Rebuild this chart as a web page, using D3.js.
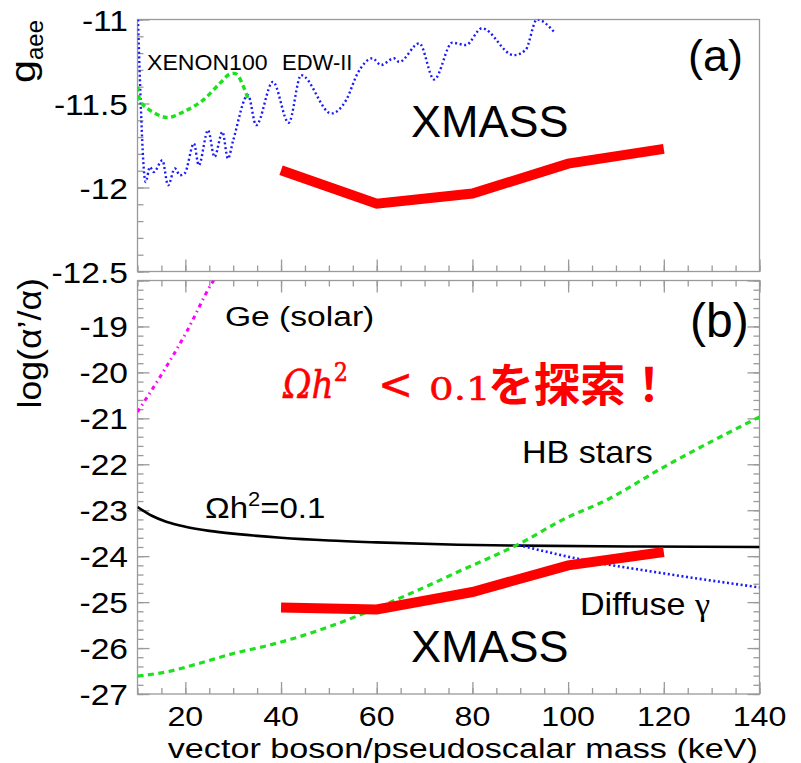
<!DOCTYPE html>
<html>
<head>
<meta charset="utf-8">
<script src="https://cdn.jsdelivr.net/npm/d3@7"></script>
<style>
  html, body { margin: 0; padding: 0; background: #fff; }
  svg { display: block; }
</style>
</head>
<body>
<div id="chart"></div>
<script>
// (a) g_aee limits
const edwMass = [10.1, 11.7, 12.6, 13.4, 15.2, 16.4, 17.8, 18.9, 19.9, 21.8, 22.8, 24.75, 26.1, 27.75, 28.9, 30, 33.1, 34.8, 38.3, 41.6, 44.2, 50.5, 53.6, 56, 59.1, 60.9, 63.6, 64.7, 68.9, 72, 75.8, 78.6, 82, 88.6, 91.1, 93.5, 97.3];
const edwGaee = [-11.0, -11.967, -11.878, -11.908, -11.838, -11.987, -11.887, -11.927, -11.914, -11.738, -11.868, -11.659, -11.818, -11.669, -11.828, -11.719, -11.45, -11.629, -11.371, -11.615, -11.331, -11.559, -11.48, -11.321, -11.231, -11.271, -11.231, -11.252, -11.142, -11.357, -11.138, -11.152, -11.052, -11.212, -11.182, -11.0, -11.082];
const xenonMass = [10, 10.5, 11.6, 16.1, 20.25, 23.7, 27.2, 29.3, 30.7, 32, 33.1];
const xenonGaee = [-11.40, -11.48, -11.52, -11.583, -11.54, -11.48, -11.38, -11.325, -11.325, -11.39, -11.47];
const xmassMass = [40, 60, 80, 100, 120];
const xmassGaee = [-11.897, -12.096, -12.036, -11.858, -11.77];

// (b) log(alpha'/alpha)
const geMass = [10, 14.7, 20.25, 25.25, 26.5];
const geAlpha = [-20.86, -20.1, -19.12, -18.11, -17.9];
const relicMass = [10, 13, 16, 20, 25, 31, 40, 50, 60, 77, 90, 115, 140];
const relicAlpha = [-22.93, -23.12, -23.25, -23.36, -23.45, -23.52, -23.6, -23.66, -23.7, -23.75, -23.77, -23.79, -23.8];
const hbMass = [10, 16, 23, 30, 37, 42, 51, 59, 68, 77, 90, 99, 108, 120, 140];
const hbAlpha = [-26.61, -26.52, -26.33, -26.12, -25.95, -25.81, -25.5, -25.17, -24.77, -24.34, -23.72, -23.2, -22.78, -22.06, -20.97];
const gammaMass = [89.7, 103.6, 120.3, 140];
const gammaAlpha = [-23.76, -24.09, -24.38, -24.68];
const xmassAlpha = [-25.12, -25.16, -24.78, -24.2, -23.91];

const massTicks = [20, 40, 60, 80, 100, 120, 140];
const gaeeTicks = [-12.5, -12, -11.5, -11];
const alphaTicks = [-27, -26, -25, -24, -23, -22, -21, -20, -19];

const FONT = '"Liberation Sans", Arial, sans-serif';
const width = 801, height = 763;
const axisColor = '#9a9a9a';

const svg = d3.select('#chart').append('svg').attr('width', width).attr('height', height);

const x = d3.scaleLinear().domain([10, 140]).range([137.5, 759.5]);
const yTop = d3.scaleLinear().domain([-12.5, -11]).range([271.5, 19.5]);
const yBot = d3.scaleLinear().domain([-27, -18]).range([694, 280.5]);

function zip(xs, ys) { return xs.map((v, i) => [v, ys[i]]); }

function label(parent, px, py, str, opts = {}) {
  return parent.append('text')
    .attr('transform', 'translate(' + px + ',' + py + ') scale(' + (opts.sx || 1) + ',1)')
    .attr('text-anchor', opts.anchor || 'start')
    .style('font-family', opts.family || FONT)
    .style('font-size', (opts.size || 30) + 'px')
    .attr('fill', opts.fill || '#000')
    .text(str);
}

function styleAxis(g) {
  g.select('.domain').remove();
  g.selectAll('line').attr('stroke', axisColor).attr('stroke-width', 1.3);
}

function ticks(axisFn, scale, values, size, translate) {
  const g = svg.append('g').attr('transform', translate)
    .call(axisFn(scale).tickValues(values).tickSize(-size).tickFormat(''));
  styleAxis(g);
  g.selectAll('text').remove();
  return g;
}

const minorMass = d3.range(10, 141, 5);
const minorGaee = d3.range(0, 16).map((i) => -12.5 + i * 0.1);
const minorAlpha = d3.range(0, 46).map((i) => -27 + i * 0.2);

// ---- panel frames
function frame(y0, y1) {
  svg.append('rect')
    .attr('x', x(10)).attr('y', y0)
    .attr('width', x(140) - x(10)).attr('height', y1 - y0)
    .attr('fill', 'none').attr('stroke', axisColor).attr('stroke-width', 1.3);
}
frame(yTop(-11), yTop(-12.5));
frame(yBot(-18), yBot(-27));

// ---- top panel ticks
ticks(d3.axisBottom, x, minorMass, 6, 'translate(0,' + yTop(-12.5) + ')');
ticks(d3.axisBottom, x, massTicks, 12, 'translate(0,' + yTop(-12.5) + ')');
ticks(d3.axisLeft, yTop, minorGaee, 6, 'translate(' + x(10) + ',0)');
ticks(d3.axisLeft, yTop, gaeeTicks, 12, 'translate(' + x(10) + ',0)');

// ---- bottom panel ticks (all four sides)
[['translate(0,' + yBot(-27) + ')', d3.axisBottom], ['translate(0,' + yBot(-18) + ')', d3.axisTop]].forEach(([tr, fn]) => {
  ticks(fn, x, minorMass, 6, tr);
  ticks(fn, x, massTicks, 12, tr);
});
[['translate(' + x(10) + ',0)', d3.axisLeft], ['translate(' + x(140) + ',0)', d3.axisRight]].forEach(([tr, fn]) => {
  ticks(fn, yBot, minorAlpha, 6, tr);
  ticks(fn, yBot, alphaTicks.concat([-18]), 12, tr);
});

// ---- tick labels
gaeeTicks.forEach((v) => label(svg, 128, yTop(v) + 11, String(v), { anchor: 'end', size: 30, sx: 1.12 }));
alphaTicks.forEach((v) => label(svg, 128, yBot(v) + 11, String(v), { anchor: 'end', size: 30, sx: 1.12 }));
massTicks.forEach((v) => label(svg, x(v), 726, String(v), { anchor: 'middle', size: 28, sx: 1.15 }));

// ---- axis titles
label(svg, 758, 757.5, 'vector boson/pseudoscalar mass (keV)', { anchor: 'end', size: 28, sx: 1.22 });

const gTitle = svg.append('g');
gTitle.append('text').attr('transform', 'translate(35,60) rotate(-90) scale(1.15,1)')
  .attr('text-anchor', 'end').style('font-family', FONT).style('font-size', '36px').text('g');
gTitle.append('text').attr('transform', 'translate(43,20) rotate(-90)')
  .attr('text-anchor', 'end').style('font-family', FONT).style('font-size', '24px').text('aee');

svg.append('text').attr('transform', 'translate(41,278) rotate(-90) scale(1.05,1)')
  .attr('text-anchor', 'end').style('font-family', FONT).style('font-size', '34px').text('log(α’/α)');

// ---- clip paths
const defs = svg.append('defs');
defs.append('clipPath').attr('id', 'clip-top').append('rect')
  .attr('x', x(10)).attr('y', yTop(-11)).attr('width', x(140) - x(10)).attr('height', yTop(-12.5) - yTop(-11));
defs.append('clipPath').attr('id', 'clip-bot').append('rect')
  .attr('x', x(10)).attr('y', yBot(-18)).attr('width', x(140) - x(10)).attr('height', yBot(-27) - yBot(-18));

const panelA = svg.append('g').attr('clip-path', 'url(#clip-top)');
const panelB = svg.append('g').attr('clip-path', 'url(#clip-bot)');

function curve(parent, yScale, pts, stroke, widthPx, dash, shape) {
  const line = d3.line().x((d) => x(d[0])).y((d) => yScale(d[1])).curve(shape || d3.curveMonotoneX);
  parent.append('path').datum(pts)
    .attr('d', line)
    .attr('fill', 'none')
    .attr('stroke', stroke)
    .attr('stroke-width', widthPx)
    .attr('stroke-dasharray', dash || null);
}

// (a)
curve(panelA, yTop, zip(edwMass, edwGaee), '#1a1aff', 2.4, '2 2.6');
curve(panelA, yTop, zip(xenonMass, xenonGaee), '#1ee01e', 3.4, '5 3.5', d3.curveCatmullRom);
curve(panelA, yTop, zip(xmassMass, xmassGaee), '#ff0000', 10, null, d3.curveLinear);

// (b)
curve(panelB, yBot, zip(geMass, geAlpha), '#ff00ff', 3, '4 4 1.5 4');
curve(panelB, yBot, zip(relicMass, relicAlpha), '#000', 2.6, null);
curve(panelB, yBot, zip(hbMass, hbAlpha), '#1ee01e', 3.2, '6 4.5');
curve(panelB, yBot, zip(gammaMass, gammaAlpha), '#1a1aff', 2.6, '2 2.6');
curve(panelB, yBot, zip(xmassMass, xmassAlpha), '#ff0000', 10, null, d3.curveLinear);

// ---- annotations (a)
label(svg, 147, 70, 'XENON100', { size: 22, sx: 1.05 });
label(svg, 282, 70, 'EDW-II', { size: 22, sx: 1.0 });
label(svg, 688, 71, '(a)', { size: 45 });
label(svg, 411, 137, 'XMASS', { size: 45 });

// ---- annotations (b)
label(svg, 225, 326, 'Ge (solar)', { size: 28, sx: 1.2 });
label(svg, 690, 337, '(b)', { size: 48 });
label(svg, 522, 463, 'HB stars', { size: 31, sx: 1.1 });
label(svg, 411, 662, 'XMASS', { size: 45 });

const relic = label(svg, 205, 518, null, { size: 30, sx: 1.1 });
relic.append('tspan').text('Ωh');
relic.append('tspan').attr('dy', -12).style('font-size', '20px').text('2');
relic.append('tspan').attr('dy', 12).text('=0.1');

const diffuse = label(svg, 580, 615, null, { size: 31, sx: 1.1 });
diffuse.append('tspan').text('Diffuse ');
diffuse.append('tspan').style('font-family', '"Liberation Serif", serif').text('γ');

// red message
const msg1 = label(svg, 283, 398, null, { size: 40, sx: 0.86, family: '"DejaVu Serif", serif', fill: '#ff0000' })
  .style('font-style', 'italic').attr('stroke', '#ff0000').attr('stroke-width', 0.6);
msg1.append('tspan').text('Ωh');
msg1.append('tspan').attr('dy', -17).style('font-style', 'normal').style('font-size', '26px').text('2');
label(svg, 378, 399, '<', { size: 42, family: '"DejaVu Serif", serif', fill: '#ff0000' })
  .attr('stroke', '#ff0000').attr('stroke-width', 0.5);
label(svg, 429, 400, '0.1', { size: 31, sx: 1.25, family: '"DejaVu Serif", serif', fill: '#ff0000' })
  .attr('stroke', '#ff0000').attr('stroke-width', 0.5);
label(svg, 488, 401, 'を探索！', { size: 46, family: '"Noto Sans CJK JP", sans-serif', fill: '#ff0000' })
  .style('font-weight', 700);
</script>
</body>
</html>
